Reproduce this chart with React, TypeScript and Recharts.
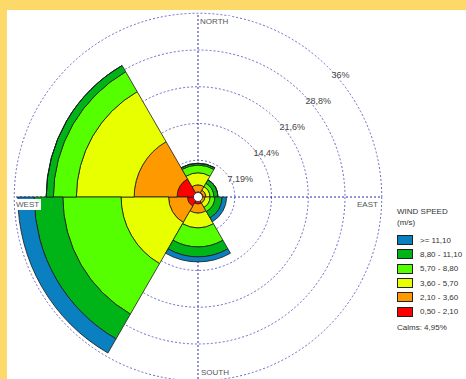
import React from 'react';
import { RadialBarChart, RadialBar, PolarGrid, PolarAngleAxis, PolarRadiusAxis } from 'recharts';

// Direction sectors (centred at 0°, 60°, 120°, 180°, 240°, 300°)
const directions = ['N', 'ENE', 'ESE', 'S', 'WSW', 'WNW'];

// Frequencies (%) per wind speed class, per direction sector
const speed050to210 = [1.0, 1.0, 0.8, 1.37, 2.05, 4.1];
const speed210to360 = [1.35, 0.56, 0.57, 1.76, 3.71, 8.4];
const speed360to570 = [2.35, 0.79, 0.98, 2.93, 9.29, 11.3];
const speed570to880 = [1.55, 0.75, 0.95, 3.71, 11.4, 4.5];
const speed880to1110 = [0.35, 0.8, 1.4, 1.95, 5.6, 1.4];
const speedAbove1110 = [0, 0, 0.9, 0.98, 3.2, 0];

const speedClassLabels = ['0,50 - 2,10', '2,10 - 3,60', '3,60 - 5,70', '5,70 - 8,80', '8,80 - 11,10', '>= 11,10'];
const speedKeys = ['c1', 'c2', 'c3', 'c4', 'c5', 'c6'];
const speedSeries = [speed050to210, speed210to360, speed360to570, speed570to880, speed880to1110, speedAbove1110];
const speedColors = ['#ff0000', '#ff9900', '#e8ff00', '#55ff00', '#00b418', '#0a80c0'];

const ringTicks = [7.19, 14.38, 21.57, 28.76, 35.95];
const ringLabels = ['7,19%', '14,4%', '21,6%', '28,8%', '36%'];
const calmsLabel = 'Calms: 4,95%';

const rows = directions.map((d, i) => {
  const r: Record<string, any> = { dir: d };
  speedKeys.forEach((k, j) => {
    r[k] = speedSeries[j][i];
  });
  return r;
});

const CX = 198;
const CY = 197;
const R = 184;
const FONT = '"Liberation Sans", Arial, sans-serif';

const RingTick = (props: any) => {
  const { x, y, payload } = props;
  const idx = ringTicks.indexOf(payload.value);
  return (
    <text x={x + 3.5} y={y + 11} fontSize={9} fill="#444" fontFamily={FONT} textAnchor="start">
      {idx >= 0 ? ringLabels[idx] : ''}
    </text>
  );
};

export default function App() {
  const legendOrder = [...speedKeys.keys()].reverse();
  return (
    <div style={{ position: 'absolute', left: 0, top: 0, width: 466, height: 379, background: '#fdd96a', overflow: 'hidden' }}>
      <div style={{ position: 'absolute', left: 7, top: 10, width: 459, height: 369, background: '#ffffff' }} />
      <div style={{ position: 'absolute', left: 0, top: 0 }}>
        <RadialBarChart
          width={466}
          height={379}
          data={rows}
          layout="centric"
          cx={CX}
          cy={CY}
          innerRadius={0}
          outerRadius={R}
          startAngle={60}
          endAngle={-300}
          barCategoryGap={0}
          barGap={0}
          margin={{ top: 0, right: 0, bottom: 0, left: 0 }}
        >
          <PolarGrid gridType="circle" radialLines={false} stroke="#6a6ac4" strokeDasharray="2 2" strokeWidth={1} />
          <PolarGrid gridType="circle" polarRadius={[]} polarAngles={[0, 90, 180, 270]} stroke="#2828b4" strokeDasharray="2 2" strokeWidth={1} />
          <PolarAngleAxis type="category" dataKey="dir" tick={false} axisLine={false} tickLine={false} />
          <PolarRadiusAxis
            type="number"
            domain={[0, 35.95]}
            ticks={ringTicks}
            angle={45}
            axisLine={false}
            tickLine={false}
            tick={<RingTick />}
          />
          {speedKeys.map((k, i) => (
            <RadialBar
              key={k}
              dataKey={k}
              stackId="wind"
              fill={speedColors[i]}
              stroke="#1a1a1a"
              strokeWidth={0.8}
              isAnimationActive={false}
            />
          ))}
        </RadialBarChart>
      </div>
      <svg width={466} height={379} style={{ position: 'absolute', left: 0, top: 0, pointerEvents: 'none' }}>
        <circle cx={CX} cy={CY} r={4.5} fill="#ffffff" stroke="#222" strokeWidth={0.8} />
        <rect x={199} y={16} width={32} height={10} fill="#fff" />
        <text x={200} y={24} fontSize={8} fill="#555" fontFamily={FONT}>NORTH</text>
        <text x={201} y={375} fontSize={8} fill="#555" fontFamily={FONT}>SOUTH</text>
        <text x={357} y={207} fontSize={8} fill="#555" fontFamily={FONT}>EAST</text>
        <rect x={15} y={199} width={26} height={11} fill="#fff" />
        <text x={16} y={207} fontSize={8} fill="#555" fontFamily={FONT}>WEST</text>
      </svg>
      <div style={{ position: 'absolute', left: 397, top: 206, fontFamily: FONT, fontSize: 8, color: '#333', lineHeight: '11px' }}>
        <div>WIND SPEED</div>
        <div>(m/s)</div>
        <div style={{ height: 5 }} />
        {legendOrder.map((i) => (
          <div key={i} style={{ display: 'flex', alignItems: 'center', height: 14.3 }}>
            <div style={{ width: 14, height: 8, background: speedColors[i], border: '1px solid #222' }} />
            <span style={{ marginLeft: 7 }}>{speedClassLabels[i]}</span>
          </div>
        ))}
        <div style={{ marginTop: 3 }}>{calmsLabel}</div>
      </div>
    </div>
  );
}
